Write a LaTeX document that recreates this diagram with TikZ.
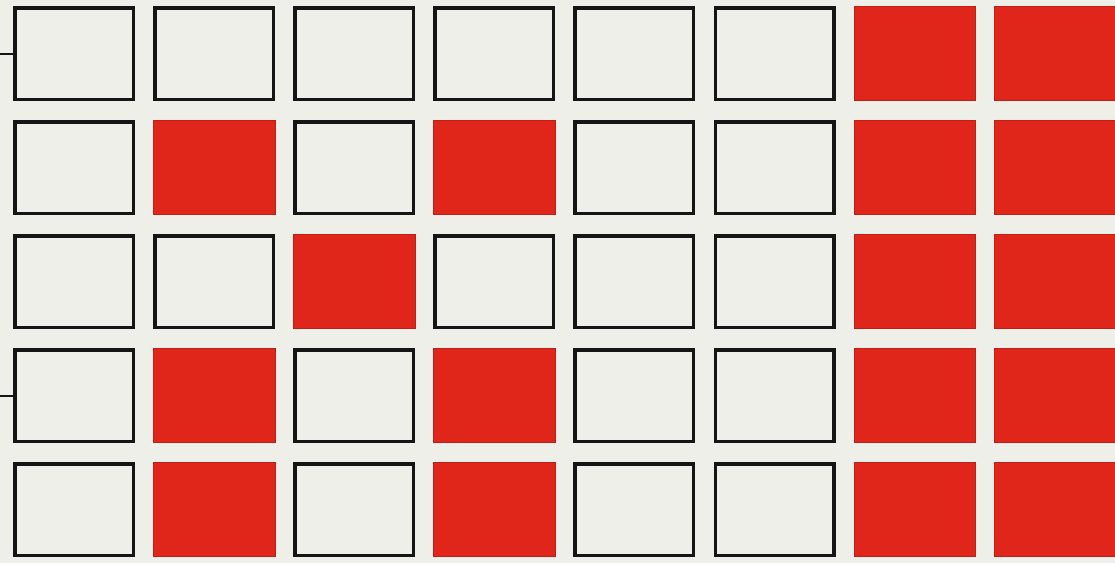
\documentclass[tikz,border=0pt]{standalone}
\usetikzlibrary{positioning}
\definecolor{paper}{HTML}{EFEFEA}
\definecolor{flag}{HTML}{E0251B}
\definecolor{ink}{HTML}{151515}
\begin{document}
\begin{tikzpicture}[
  x=1pt,y=-1pt,
  cell/.style={draw=ink,line width=3.5pt,fill=paper,inner sep=0pt,outer sep=1.75pt,minimum width=118.5pt,minimum height=91.5pt},
  rcell/.style={draw=flag!85!black,line width=0.6pt,fill=flag,inner sep=0pt,outer sep=0.3pt,minimum width=121.4pt,minimum height=94.4pt},
  edgetick/.style={draw=ink,line width=2pt}
]
\fill[paper] (0,0) rectangle (1115,563);
\useasboundingbox (0,0) rectangle (1115,563);
\clip (0,0) rectangle (1115,563);
% ---- row 1 ----
\node[cell] (a1) at (74,53.5) {};
\node[cell,right=18.1pt of a1] (a2) {};
\node[cell,right=18.1pt of a2] (a3) {};
\node[cell,right=18.1pt of a3] (a4) {};
\node[cell,right=18.1pt of a4] (a5) {};
\node[cell,right=18.1pt of a5] (a6) {};
\node[rcell,right=18.1pt of a6] (a7) {};
\node[rcell,right=18.1pt of a7] (a8) {};
% ---- row 2 ----
\node[cell,below=19pt of a1] (b1) {};
\node[rcell,right=18.1pt of b1] (b2) {};
\node[cell,right=18.1pt of b2] (b3) {};
\node[rcell,right=18.1pt of b3] (b4) {};
\node[cell,right=18.1pt of b4] (b5) {};
\node[cell,right=18.1pt of b5] (b6) {};
\node[rcell,right=18.1pt of b6] (b7) {};
\node[rcell,right=18.1pt of b7] (b8) {};
% ---- row 3 ----
\node[cell,below=19pt of b1] (c1) {};
\node[cell,right=18.1pt of c1] (c2) {};
\node[rcell,right=18.1pt of c2] (c3) {};
\node[cell,right=18.1pt of c3] (c4) {};
\node[cell,right=18.1pt of c4] (c5) {};
\node[cell,right=18.1pt of c5] (c6) {};
\node[rcell,right=18.1pt of c6] (c7) {};
\node[rcell,right=18.1pt of c7] (c8) {};
% ---- row 4 ----
\node[cell,below=19pt of c1] (d1) {};
\node[rcell,right=18.1pt of d1] (d2) {};
\node[cell,right=18.1pt of d2] (d3) {};
\node[rcell,right=18.1pt of d3] (d4) {};
\node[cell,right=18.1pt of d4] (d5) {};
\node[cell,right=18.1pt of d5] (d6) {};
\node[rcell,right=18.1pt of d6] (d7) {};
\node[rcell,right=18.1pt of d7] (d8) {};
% ---- row 5 ----
\node[cell,below=19pt of d1] (e1) {};
\node[rcell,right=18.1pt of e1] (e2) {};
\node[cell,right=18.1pt of e2] (e3) {};
\node[rcell,right=18.1pt of e3] (e4) {};
\node[cell,right=18.1pt of e4] (e5) {};
\node[cell,right=18.1pt of e5] (e6) {};
\node[rcell,right=18.1pt of e6] (e7) {};
\node[rcell,right=18.1pt of e7] (e8) {};
% ---- ticks on the left edge ----
\coordinate (tk1) at (0,53.5);
\coordinate (tk4) at (0,395.5);
\draw[edgetick] (tk1) -- (a1.west);
\draw[edgetick] (tk4) -- (d1.west);
\end{tikzpicture}
\end{document}
